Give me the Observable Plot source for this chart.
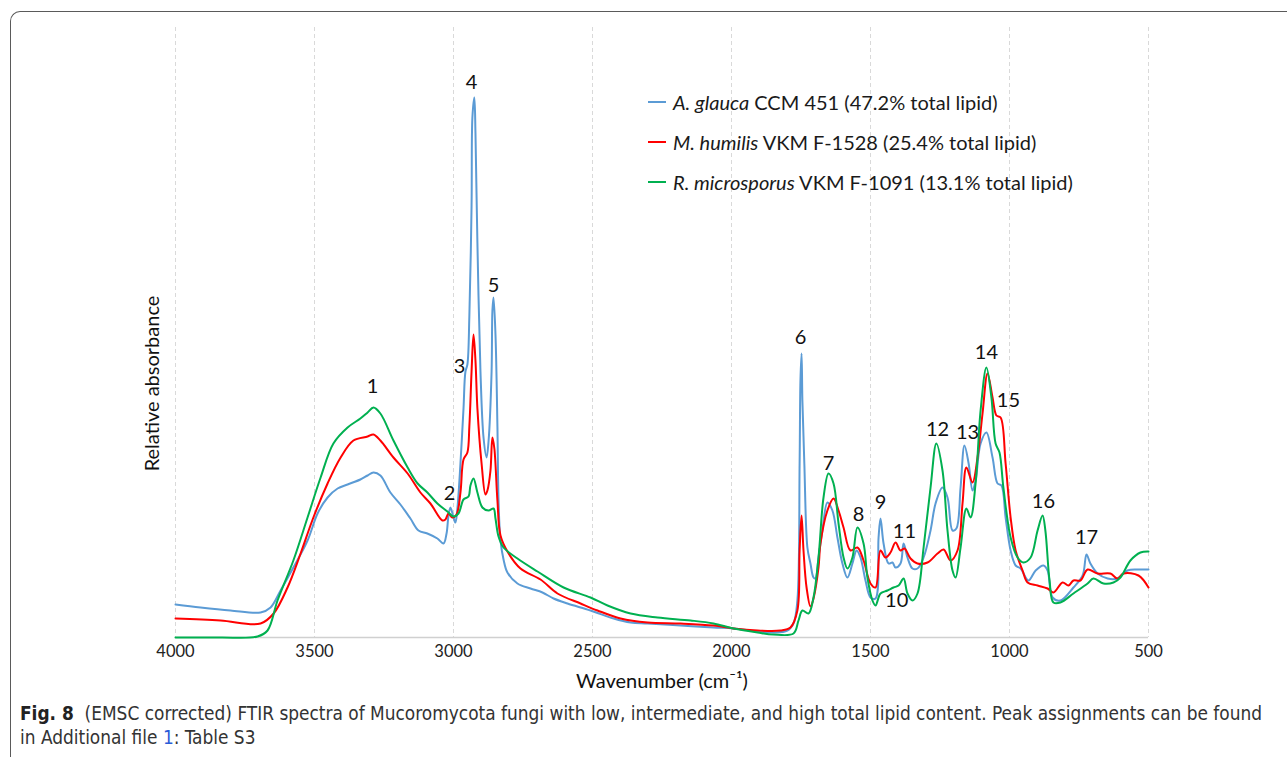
<!DOCTYPE html>
<html><head><meta charset="utf-8">
<script src="https://cdn.jsdelivr.net/npm/d3@7"></script>
<script src="https://cdn.jsdelivr.net/npm/@observablehq/plot@0.6"></script>
<style>
body{margin:0;background:#fff;width:1287px;height:757px;overflow:hidden;position:relative;font-family:Lato,"Open Sans",sans-serif;}
#frame{position:absolute;left:10px;top:11px;width:1400px;height:900px;border-top:1.5px solid #5a5a5a;border-left:1.5px solid #5a5a5a;border-top-left-radius:10px;box-sizing:border-box;}
#chart{position:absolute;left:0;top:0;}
#legend{position:absolute;left:648px;top:82px;font-size:20px;color:#1a1a1a;}
.row{height:40px;display:flex;align-items:center;white-space:nowrap;}
.sw{width:18px;height:2px;margin-right:7px;}
#caption{position:absolute;left:20px;top:701px;font-family:"Liberation Sans Narrow","DejaVu Sans Condensed",sans-serif;font-size:18.9px;color:#333;line-height:24px;white-space:nowrap;}
#caption .b{font-weight:bold;color:#222}
#caption .l{color:#2a5bd7}
</style></head>
<body>
<div id="frame"></div>
<div id="chart"></div>
<div id="legend"></div>
<div id="caption"><span class="b">Fig. 8</span>&nbsp; (EMSC corrected) FTIR spectra of Mucoromycota fungi with low, intermediate, and high total lipid content. Peak assignments can be found<br>in Additional file <span class="l">1</span>: Table S3</div>
<script>
// ---- data (wavenumber cm-1, relative absorbance) ----
const seriesNames = ["A. glauca", "M. humilis", "R. microsporus"];
const seriesRest = ["CCM 451 (47.2% total lipid)", "VKM F-1528 (25.4% total lipid)", "VKM F-1091 (13.1% total lipid)"];
const seriesColors = ["#5b9bd5", "#ff0000", "#00b050"];
const xTicks = [4000, 3500, 3000, 2500, 2000, 1500, 1000, 500];

const glauca = [[4000,0.066],[3910,0.060],[3802,0.054],[3694,0.050],[3658,0.060],[3622,0.094],[3576,0.140],[3525,0.194],[3489,0.248],[3453,0.280],[3417,0.298],[3381,0.306],[3335,0.316],[3309,0.324],[3288,0.330],[3263,0.324],[3227,0.290],[3191,0.266],[3155,0.238],[3126,0.214],[3094,0.208],[3058,0.198],[3036,0.188],[3025,0.208],[3018,0.244],[3011,0.260],[3000,0.240],[2993,0.230],[2986,0.258],[2975,0.348],[2964,0.458],[2957,0.532],[2950,0.546],[2943,0.642],[2935,0.864],[2932,1.040],[2925,1.080],[2921,1.010],[2914,0.790],[2903,0.532],[2892,0.400],[2881,0.360],[2874,0.392],[2863,0.532],[2860,0.654],[2856,0.680],[2849,0.606],[2842,0.422],[2838,0.274],[2831,0.194],[2820,0.156],[2806,0.130],[2770,0.108],[2723,0.098],[2680,0.090],[2640,0.078],[2590,0.068],[2507,0.054],[2424,0.038],[2363,0.030],[2302,0.028],[2183,0.024],[2065,0.020],[1993,0.018],[1906,0.012],[1849,0.010],[1799,0.014],[1777,0.028],[1763,0.074],[1755,0.348],[1752,0.514],[1748,0.568],[1745,0.474],[1738,0.348],[1727,0.180],[1716,0.148],[1705,0.120],[1698,0.118],[1687,0.160],[1673,0.214],[1655,0.270],[1637,0.254],[1619,0.200],[1601,0.148],[1583,0.120],[1565,0.148],[1550,0.174],[1536,0.160],[1518,0.114],[1500,0.080],[1482,0.078],[1471,0.200],[1464,0.238],[1453,0.188],[1435,0.148],[1421,0.150],[1410,0.140],[1392,0.148],[1381,0.188],[1367,0.160],[1349,0.138],[1331,0.138],[1309,0.160],[1284,0.214],[1266,0.268],[1241,0.300],[1223,0.280],[1205,0.214],[1191,0.218],[1176,0.300],[1162,0.384],[1147,0.348],[1133,0.294],[1122,0.314],[1104,0.388],[1083,0.410],[1061,0.360],[1043,0.308],[1029,0.304],[1014,0.240],[996,0.174],[978,0.144],[960,0.138],[932,0.114],[906,0.134],[878,0.144],[863,0.134],[845,0.080],[817,0.074],[770,0.100],[737,0.124],[723,0.166],[709,0.148],[683,0.128],[647,0.118],[612,0.118],[576,0.134],[540,0.136],[500,0.136]];

const humilis = [[4000,0.038],[3838,0.034],[3694,0.028],[3647,0.048],[3597,0.100],[3550,0.168],[3504,0.240],[3453,0.308],[3406,0.360],[3360,0.394],[3309,0.402],[3288,0.406],[3263,0.394],[3216,0.360],[3165,0.328],[3119,0.290],[3083,0.268],[3040,0.234],[3029,0.236],[3018,0.248],[3004,0.240],[2989,0.246],[2975,0.290],[2964,0.356],[2950,0.370],[2943,0.422],[2935,0.532],[2928,0.606],[2921,0.554],[2914,0.458],[2899,0.348],[2885,0.286],[2878,0.294],[2867,0.334],[2860,0.400],[2853,0.378],[2842,0.274],[2831,0.204],[2806,0.172],[2759,0.138],[2687,0.116],[2626,0.088],[2543,0.068],[2482,0.054],[2399,0.038],[2302,0.030],[2183,0.028],[2065,0.024],[1993,0.018],[1906,0.014],[1824,0.014],[1788,0.020],[1763,0.054],[1755,0.174],[1748,0.244],[1741,0.174],[1730,0.100],[1716,0.062],[1705,0.078],[1687,0.140],[1680,0.188],[1655,0.254],[1633,0.278],[1615,0.254],[1597,0.220],[1572,0.174],[1547,0.180],[1525,0.154],[1500,0.108],[1482,0.100],[1464,0.174],[1446,0.160],[1428,0.170],[1410,0.190],[1392,0.174],[1378,0.178],[1356,0.158],[1331,0.148],[1295,0.150],[1259,0.168],[1237,0.176],[1212,0.154],[1187,0.174],[1169,0.268],[1155,0.340],[1133,0.310],[1115,0.360],[1097,0.448],[1079,0.528],[1061,0.480],[1047,0.444],[1032,0.440],[1014,0.348],[996,0.240],[978,0.174],[953,0.134],[935,0.110],[899,0.104],[863,0.098],[842,0.090],[809,0.110],[788,0.104],[770,0.114],[745,0.114],[719,0.136],[683,0.128],[637,0.128],[612,0.118],[590,0.128],[536,0.124],[500,0.100]];

const microsporus = [[4000,0.000],[3838,0.000],[3705,0.002],[3669,0.014],[3633,0.074],[3576,0.154],[3525,0.240],[3478,0.320],[3432,0.388],[3381,0.420],[3335,0.438],[3309,0.450],[3288,0.460],[3263,0.448],[3216,0.394],[3165,0.340],[3129,0.308],[3094,0.290],[3058,0.268],[3022,0.252],[3000,0.242],[2982,0.248],[2964,0.276],[2946,0.282],[2939,0.304],[2928,0.318],[2914,0.290],[2896,0.260],[2874,0.254],[2856,0.258],[2849,0.238],[2838,0.202],[2820,0.180],[2770,0.158],[2698,0.132],[2604,0.100],[2507,0.080],[2446,0.064],[2363,0.048],[2266,0.040],[2147,0.034],[2065,0.028],[1993,0.018],[1906,0.010],[1849,0.006],[1777,0.008],[1759,0.034],[1745,0.054],[1723,0.048],[1705,0.080],[1687,0.160],[1669,0.280],[1651,0.328],[1633,0.308],[1615,0.228],[1597,0.160],[1583,0.138],[1565,0.160],[1547,0.220],[1525,0.188],[1511,0.120],[1493,0.074],[1482,0.064],[1464,0.088],[1439,0.094],[1417,0.100],[1399,0.104],[1381,0.118],[1367,0.088],[1349,0.074],[1331,0.088],[1309,0.180],[1284,0.300],[1263,0.388],[1241,0.334],[1223,0.214],[1205,0.134],[1194,0.120],[1176,0.180],[1155,0.258],[1140,0.240],[1122,0.308],[1104,0.454],[1083,0.540],[1065,0.480],[1050,0.388],[1036,0.370],[1022,0.300],[996,0.200],[971,0.160],[950,0.150],[924,0.160],[899,0.214],[881,0.244],[871,0.214],[856,0.114],[842,0.070],[817,0.070],[770,0.088],[719,0.108],[698,0.118],[662,0.108],[626,0.110],[601,0.120],[565,0.154],[529,0.170],[500,0.172]];

const peakLabels = ["1","2","3","4","5","6","7","8","9","10","11","12","13","14","15","16","17"];
const peakWn = [3291,3014,2978,2935,2856,1752,1651,1543,1464,1406,1378,1259,1151,1083,1004,878,723];
const peakAbs = [0.502,0.288,0.542,1.110,0.704,0.600,0.348,0.246,0.270,0.074,0.212,0.416,0.410,0.570,0.474,0.272,0.200];

const xLabel = "Wavenumber (cm\u207B\u00B9)";
const yLabel = "Relative absorbance";

// ---- build ----
const spectra = [glauca, humilis, microsporus];
const rows = spectra.flatMap((d, i) => d.map(([wn, a]) => ({wn, a, s: seriesNames[i]})));
const peaks = peakLabels.map((t, i) => ({t, wn: peakWn[i], a: peakAbs[i]}));

const chart = Plot.plot({
  width: 1287, height: 700,
  marginLeft: 175, marginRight: 139, marginTop: 27, marginBottom: 63,
  x: {domain: [4000, 500]},
  y: {domain: [0, 1.22], axis: null},
  color: {domain: seriesNames, range: seriesColors},
  style: {fontFamily: "Lato, 'Open Sans', sans-serif", background: "transparent", color: "#333"},
  marks: [
    Plot.ruleX(xTicks, {stroke: "#d9d9d9", strokeDasharray: "4,3", strokeWidth: 1}),
    Plot.ruleY([0], {stroke: "#d0d0d0", strokeWidth: 1.5}),
    Plot.axisX(xTicks, {tickSize: 0, tickPadding: 8, fontSize: 16.5, label: null, tickFormat: d => String(d), fill: "#222"}),
    Plot.line(rows, {x: "wn", y: "a", stroke: "s", z: "s", curve: "catmull-rom", strokeWidth: 2}),
    Plot.text(peaks, {x: "wn", y: "a", text: "t", fontSize: 20, fill: "#111"}),
    Plot.text([xLabel], {frameAnchor: "bottom", dy: 50, fontSize: 20, fill: "#111"}),
    Plot.text([yLabel], {frameAnchor: "left", textAnchor: "middle", dx: -23, dy: 51, rotate: -90, fontSize: 20, fill: "#111"})
  ]
});
document.getElementById("chart").appendChild(chart);

const legend = document.getElementById("legend");
seriesNames.forEach((n, i) => {
  const r = document.createElement("div");
  r.className = "row";
  r.innerHTML = `<span class="sw" style="background:${seriesColors[i]}"></span><span><i>${n}</i> ${seriesRest[i]}</span>`;
  legend.appendChild(r);
});
</script>
</body></html>
